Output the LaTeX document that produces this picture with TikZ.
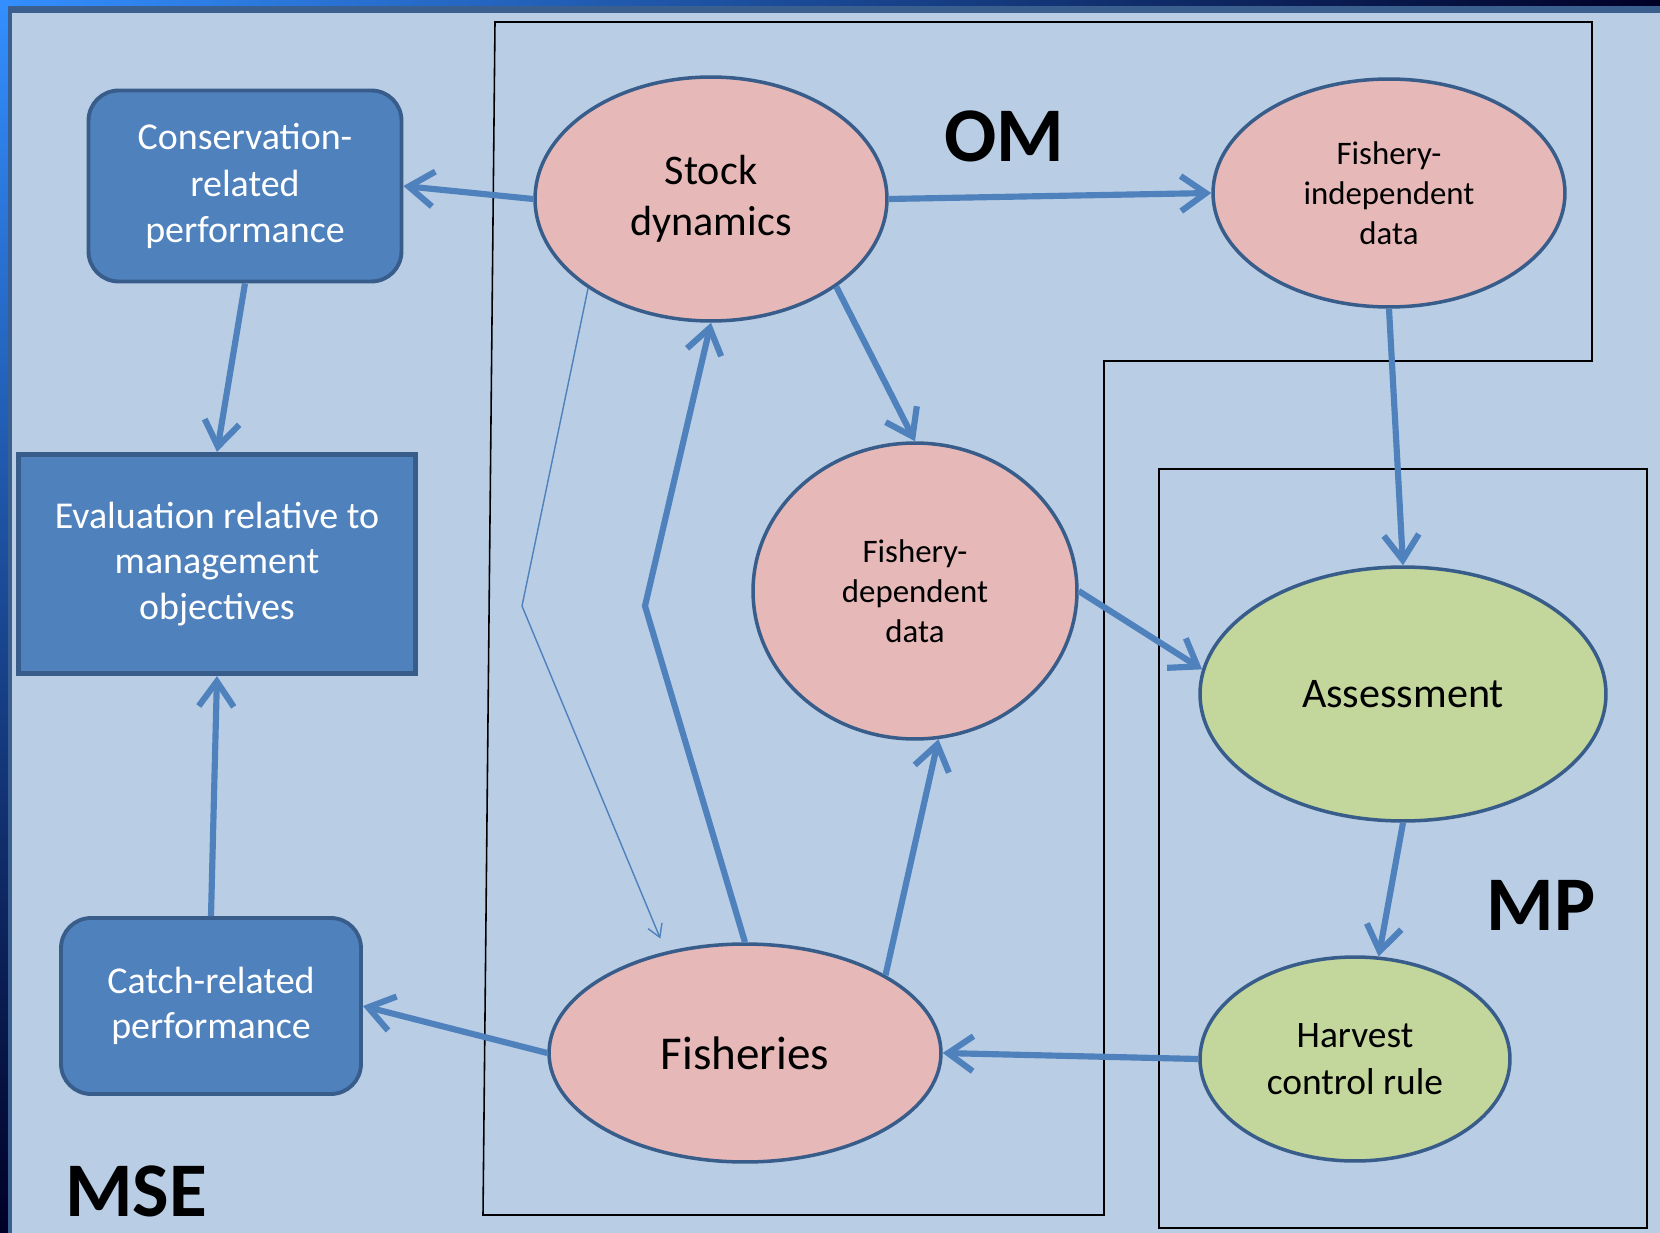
\documentclass[tikz,border=0pt]{standalone}
\usepackage{fontspec}
\setmainfont{Carlito}
\usepackage{tikz}
\usetikzlibrary{shapes.geometric,arrows.meta}
\definecolor{panel}{HTML}{B9CDE5}
\definecolor{boxblue}{HTML}{4F81BD}
\definecolor{rimblue}{HTML}{385D8A}
\definecolor{pinkfill}{HTML}{E6B9B8}
\definecolor{greenfill}{HTML}{C3D69B}
\definecolor{bandblue}{HTML}{3B5F8E}
\newcommand{\sz}[2]{\fontsize{#1}{#2}\selectfont}
\tikzstyle{perf} = [draw=rimblue,line width=2.2pt,fill=boxblue,rounded corners=0.6cm,text=white,align=center,inner sep=0]
\tikzstyle{evalbox} = [perf,rounded corners=0pt,line width=3pt]
\tikzstyle{omnode} = [ellipse,draw=rimblue,line width=2pt,fill=pinkfill,align=center,inner sep=0]
\tikzstyle{mpnode} = [omnode,fill=greenfill]
\tikzstyle{frame} = [draw=black,line width=0.9pt]
\tikzstyle{flow} = [draw=boxblue,line width=3.5pt,-{Straight Barb[length=0.5cm,width=0.7cm]}]
\tikzstyle{thinflow} = [draw=boxblue,line width=0.8pt,-{Straight Barb[length=0.25cm,width=0.3cm]}]
\tikzstyle{tag} = [inner sep=0,font=\sz{44}{50}\bfseries]

\begin{document}
\begin{tikzpicture}[x=0.02cm,y=-0.02cm]
    \useasboundingbox (0,0) rectangle (1660,1233);

    % slide frame
    \shade[left color=blue!55!cyan!80!white, middle color=cyan!60!blue, right color=black!85!blue] (0,0) rectangle (1660,7);
    \shade[top color=blue!55!cyan!80!white, bottom color=black!85!blue] (0,0) rectangle (9,1233);
    \fill[bandblue] (8,6) rectangle (1660,13);
    \fill[bandblue] (8,6) rectangle (12,1233);
    \fill[panel] (12,13) rectangle (1660,1233);

    % OM and MP outlines
    \draw[frame] (495,22) -- (1592,22) -- (1592,361) -- (1104,361) -- (1104,1215) -- (483,1215) -- cycle;
    \draw[frame] (1159,469) rectangle (1647,1228);

    \node[perf,minimum width=6.26cm,minimum height=3.82cm,font=\sz{21.6}{26.5}] (CR) at (245,186) {Conservation-\\related\\performance};
    \node[evalbox,minimum width=7.94cm,minimum height=4.38cm,font=\sz{21.6}{25.9}] (EV) at (217,564) {Evaluation relative to\\management\\objectives};
    \node[perf,minimum width=6.0cm,minimum height=3.52cm,font=\sz{21.6}{25.9}] (CT) at (211,1006) {Catch-related\\performance};

    \node[omnode,minimum width=7.04cm,minimum height=4.88cm,font=\sz{24}{29}] (SD) at (711,199) {Stock\\dynamics};
    \node[omnode,minimum width=7.04cm,minimum height=4.56cm,font=\sz{18.7}{22.9}] (FI) at (1389,193) {Fishery-\\independent\\data};
    \node[omnode,minimum width=6.48cm,minimum height=5.92cm,font=\sz{18.7}{22.9}] (FD) at (915,591) {Fishery-\\dependent\\data};
    \node[omnode,minimum width=7.84cm,minimum height=4.36cm,font=\sz{26.8}{32}] (FS) at (745,1053) {Fisheries};
    \node[mpnode,minimum width=8.12cm,minimum height=5.08cm,font=\sz{24}{29}] (AS) at (1403,694) {Assessment};
    \node[mpnode,minimum width=6.2cm,minimum height=4.08cm,font=\sz{21.3}{26.5}] (HC) at (1355,1059) {Harvest\\control rule};

    \node[tag] (OM) at (1004,136) {OM};
    \node[tag] (MP) at (1541,905) {MP};
    \node[tag] (MSE) at (136,1191) {MSE};

    \coordinate (k1) at (645,606);
    \coordinate (k2) at (522,606);

    \draw[flow] (SD.west) -- (CR.east);
    \draw[flow] (SD.east) -- (FI.west);
    \draw[flow] (SD.-35) -- (FD.north);
    \draw[flow] (FI.south) -- (AS.north);
    \draw[flow] (FD.east) -- (AS.173);
    \draw[flow] (AS.south) -- (HC.77);
    \draw[flow] (HC.west) -- (FS.east);
    \draw[flow] (FS.north) -- (k1) -- (SD.south);
    \draw[flow] (FS.29) -- (FD.-81);
    \draw[flow] (FS.west) -- (CT.east);
    \draw[flow] (CR.south) -- (EV.north);
    \draw[flow] (CT.north) -- (EV.south);
    \draw[thinflow,shorten >=8pt] (SD.-144) -- (k2) -- (FS.128);

\end{tikzpicture}
\end{document}
